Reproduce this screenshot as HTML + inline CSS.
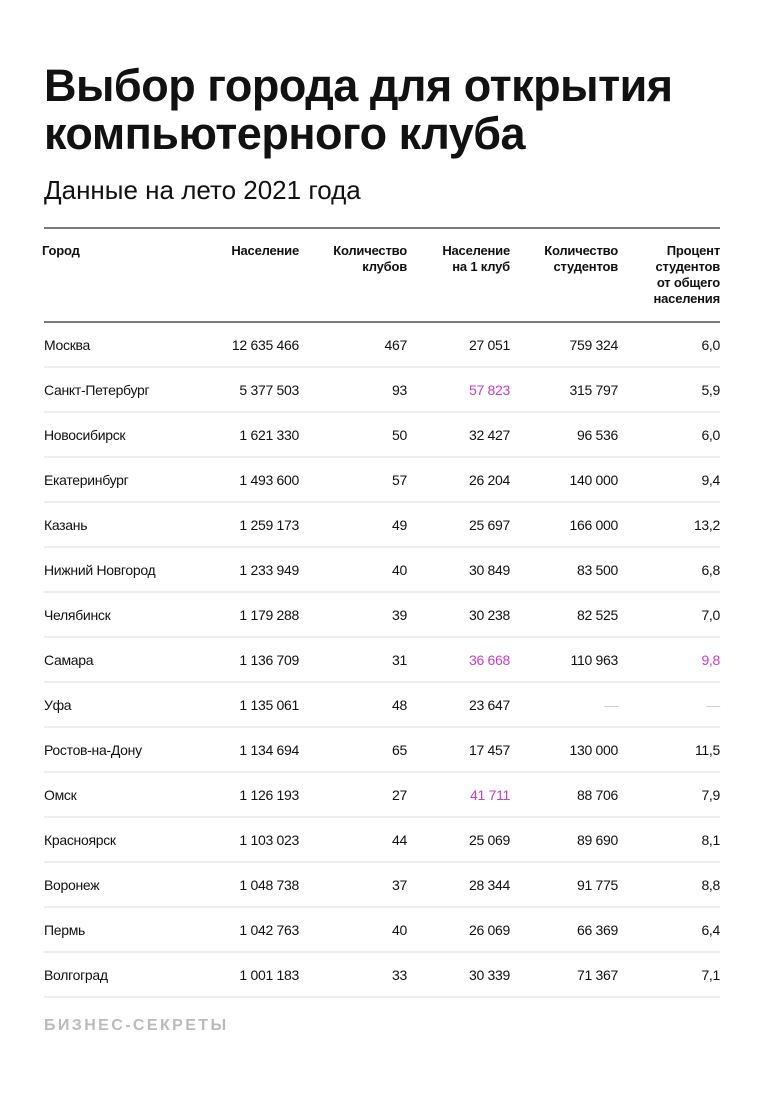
<!DOCTYPE html>
<html><head><meta charset="utf-8"><style>
body{margin:0;background:#fff;width:764px;height:1100px;position:relative;font-family:"Liberation Sans","DejaVu Sans",sans-serif;color:#111}
h1{position:absolute;left:44px;top:62px;margin:0;font-size:45px;line-height:48px;font-weight:bold;letter-spacing:-0.5px}
.sub{position:absolute;left:44px;top:175px;font-size:26px}
.top{position:absolute;left:44px;width:676px;top:227px;height:2px;background:#7a7a7a}
.hl{position:absolute;left:44px;width:676px;top:321px;height:2px;background:#7a7a7a}
.th{position:absolute;top:243px;font-size:13px;font-weight:bold;line-height:16px;text-align:right;letter-spacing:-0.2px}
.row{position:absolute;left:44px;width:676px;height:45px;border-bottom:2px solid #eee;font-size:14px;box-sizing:border-box;letter-spacing:-0.3px}
.row span{position:absolute;top:14px}
.p{color:#c83cc8}
.g{color:#ccc}
.logo{position:absolute;left:44px;top:1017px;font-size:16px;font-weight:bold;color:#bbb;letter-spacing:2.4px}
</style></head><body>
<h1>Выбор города для открытия<br>компьютерного клуба</h1>
<div class="sub">Данные на лето 2021 года</div>
<div class="top"></div>
<div class="th" style="left:42px;text-align:left">Город</div>
<div class="th" style="right:465px">Население</div>
<div class="th" style="right:357px">Количество<br>клубов</div>
<div class="th" style="right:254px">Население<br>на 1 клуб</div>
<div class="th" style="right:146px">Количество<br>студентов</div>
<div class="th" style="right:44px">Процент<br>студентов<br>от общего<br>населения</div>
<div class="hl"></div>
<div id="rows"></div>
<div class="logo">БИЗНЕС-СЕКРЕТЫ</div>
<script>
var d=[["Москва","12 635 466","467","27 051","759 324","6,0"],
["Санкт-Петербург","5 377 503","93","*57 823","315 797","5,9"],
["Новосибирск","1 621 330","50","32 427","96 536","6,0"],
["Екатеринбург","1 493 600","57","26 204","140 000","9,4"],
["Казань","1 259 173","49","25 697","166 000","13,2"],
["Нижний Новгород","1 233 949","40","30 849","83 500","6,8"],
["Челябинск","1 179 288","39","30 238","82 525","7,0"],
["Самара","1 136 709","31","*36 668","110 963","*9,8"],
["Уфа","1 135 061","48","23 647","#—","#—"],
["Ростов-на-Дону","1 134 694","65","17 457","130 000","11,5"],
["Омск","1 126 193","27","*41 711","88 706","7,9"],
["Красноярск","1 103 023","44","25 069","89 690","8,1"],
["Воронеж","1 048 738","37","28 344","91 775","8,8"],
["Пермь","1 042 763","40","26 069","66 369","6,4"],
["Волгоград","1 001 183","33","30 339","71 367","7,1"]];
var r=[421,313,210,102,0],h="";
d.forEach(function(x,i){h+='<div class="row" style="top:'+(323+i*45)+'px"><span style="left:0">'+x[0]+'</span>';
for(var j=1;j<6;j++){var v=x[j],c="";if(v[0]=="*"){c="p";v=v.slice(1)}if(v[0]=="#"){c="g";v=v.slice(1)}
h+='<span class="'+c+'" style="right:'+r[j-1]+'px">'+v+'</span>';}h+='</div>';});
document.getElementById("rows").innerHTML=h;
</script>
</body></html>
